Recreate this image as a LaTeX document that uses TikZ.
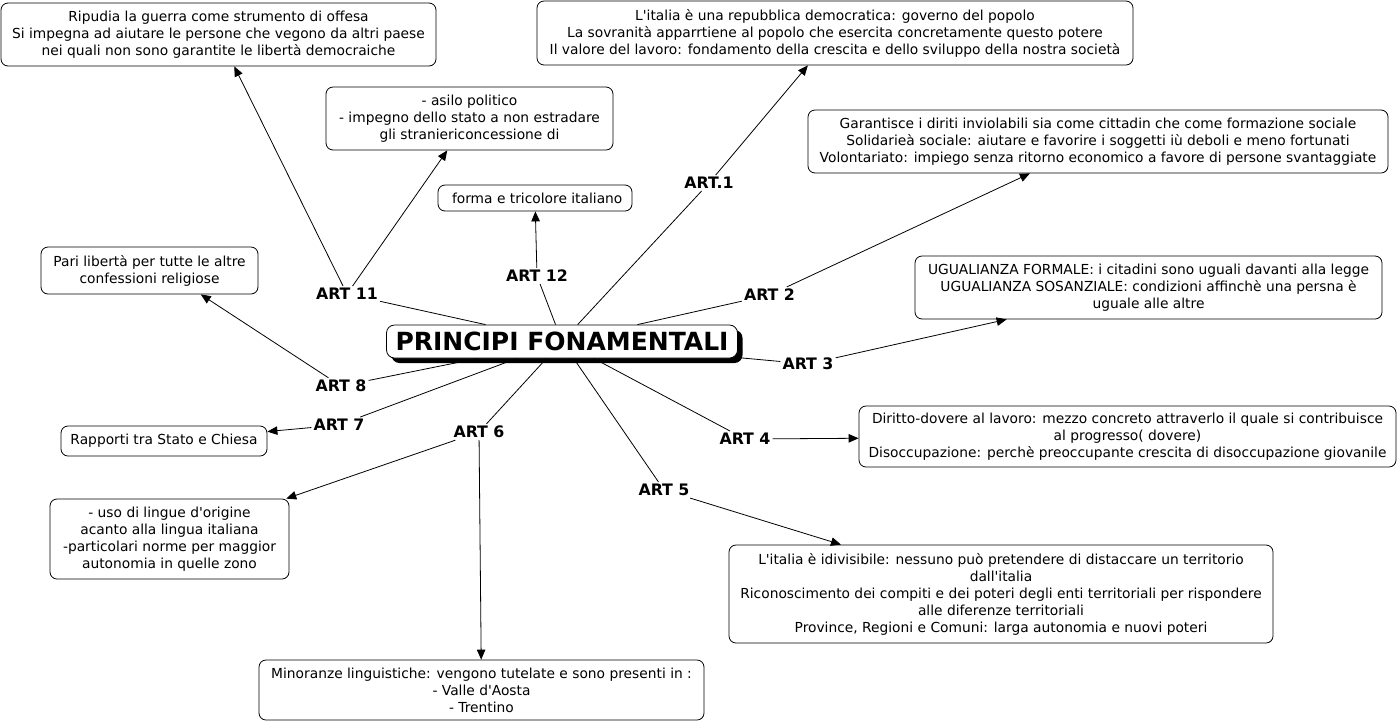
\documentclass[tikz,border=0pt]{standalone}
\usepackage{fontspec}
\setmainfont{DejaVu Sans}[Ligatures=TeXOff]
\usetikzlibrary{arrows.meta,shadows}
\tikzset{
  riq/.style={draw, rounded corners=7pt, align=center, inner sep=3pt, line width=0.8pt, font=\fontsize{13.8}{17}\selectfont},
  centro/.style={draw, rounded corners=8pt, fill=white, inner sep=3pt, line width=0.8pt, font=\fontsize{25}{28}\selectfont\bfseries,
    drop shadow={shadow xshift=5pt, shadow yshift=-5pt, fill=black, opacity=1}},
  art/.style={font=\fontsize{15.8}{17}\selectfont\bfseries, inner sep=2pt},
  ln/.style={line width=0.8pt},
  fr/.style={-{Triangle[length=10pt,width=8.5pt]}, line width=0.8pt},
}
\begin{document}
\begin{tikzpicture}[x=1pt, y=-1pt]
  \useasboundingbox (0,0) rectangle (1399,724);
  \node[centro, minimum width=351, minimum height=33] (c) at (562,341.5) {PRINCIPI FONAMENTALI};
  \node[riq, minimum width=435, minimum height=63] (b11a) at (218.5,34.5) {Ripudia la guerra come strumento di offesa\\ Si impegna ad aiutare le persone che vegono da altri paese\\ nei quali non sono garantite le libertà democraiche};
  \node[riq, minimum width=596, minimum height=64] (b1) at (835,33) {L'italia è una repubblica democratica: governo del popolo\\ La sovranità apparrtiene al popolo che esercita concretamente questo potere\\ Il valore del lavoro: fondamento della crescita e dello sviluppo della nostra società};
  \node[riq, minimum width=287, minimum height=63] (b11b) at (469.5,118.5) {- asilo politico\\ - impegno dello stato a non estradare\\ gli straniericoncessione di};
  \node[riq, minimum width=194, minimum height=26] (b12) at (535,198) {\ forma e tricolore italiano};
  \node[riq, minimum width=580, minimum height=63] (b2) at (1098,141.5) {Garantisce i diriti inviolabili sia come cittadin che come formazione sociale\\ Solidarieà sociale: aiutare e favorire i soggetti iù deboli e meno fortunati\\ Volontariato: impiego senza ritorno economico a favore di persone svantaggiate};
  \node[riq, minimum width=467, minimum height=63] (b3) at (1148.5,287.5) {UGUALIANZA FORMALE: i citadini sono uguali davanti alla legge\\ UGUALIANZA SOSANZIALE: condizioni affinchè una persna è\\ uguale alle altre};
  \node[riq, minimum width=217, minimum height=47] (b8) at (149.5,270.5) {Pari libertà per tutte le altre\\ confessioni religiose};
  \node[riq, minimum width=206, minimum height=30] (b7) at (164,441) {Rapporti tra Stato e Chiesa};
  \node[riq, minimum width=537, minimum height=61] (b4) at (1127.5,436.5) {Diritto-dovere al lavoro: mezzo concreto attraverlo il quale si contribuisce\\ al progresso( dovere)\\ Disoccupazione: perchè preoccupante crescita di disoccupazione giovanile};
  \node[riq, minimum width=239, minimum height=80] (b6a) at (169.5,539) {- uso di lingue d'origine\\ acanto alla lingua italiana\\ -particolari norme per maggior\\ autonomia in quelle zono};
  \node[riq, minimum width=544, minimum height=98] (b5) at (1001,594) {L'italia è idivisibile: nessuno può pretendere di distaccare un territorio\\ dall'italia\\ Riconoscimento dei compiti e dei poteri degli enti territoriali per rispondere\\ alle diferenze territoriali\\ Province, Regioni e Comuni: larga autonomia e nuovi poteri};
  \node[riq, minimum width=445, minimum height=60] (b6b) at (481.5,690) {Minoranze linguistiche: vengono tutelate e sono presenti in :\\ - Valle d'Aosta\\ - Trentino};
  \node[art] (a1) at (709,183) {ART.1};
  \node[art] (a2) at (769.5,295) {ART 2};
  \node[art] (a3) at (808,364) {ART 3};
  \node[art] (a4) at (745,439) {ART 4};
  \node[art] (a5) at (664,490) {ART 5};
  \node[art] (a6) at (479,432) {ART 6};
  \node[art] (a7) at (339,425) {ART 7};
  \node[art] (a8) at (341,386) {ART 8};
  \node[art] (a11) at (347,294) {ART 11};
  \node[art] (a12) at (537,276) {ART 12};
  \draw[ln] (c) -- (a1); \draw[ln] (c) -- (a2); \draw[ln] (c) -- (a3); \draw[ln] (c) -- (a4); \draw[ln] (c) -- (a5);
  \draw[ln] (c) -- (a6); \draw[ln] (c) -- (a7); \draw[ln] (c) -- (a8); \draw[ln] (c) -- (a11); \draw[ln] (c) -- (a12);
  \draw[fr] (a1) -- (b1); \draw[fr] (a2) -- (b2); \draw[fr] (a3) -- (b3); \draw[fr] (a4) -- (b4); \draw[fr] (a5) -- (b5);
  \draw[fr] (a6) -- (b6a); \draw[fr] (a6) -- (b6b); \draw[fr] (a7) -- (b7); \draw[fr] (a8) -- (b8.-25);
  \draw[fr] (a11) -- (b11a); \draw[fr] (a11) -- (b11b); \draw[fr] (a12) -- (b12);
\end{tikzpicture}
\end{document}
